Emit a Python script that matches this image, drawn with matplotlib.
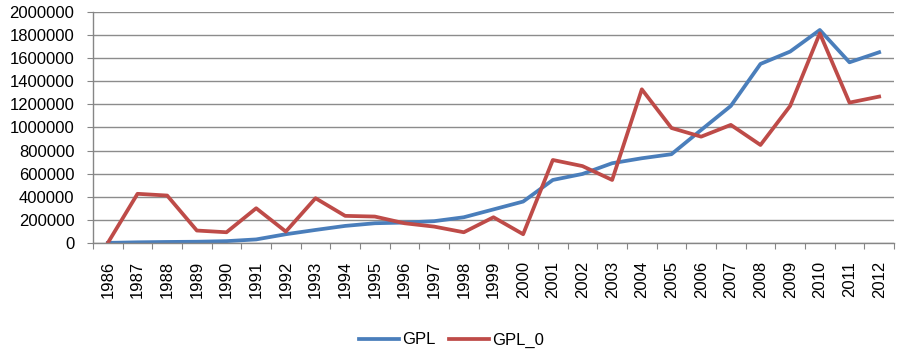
import numpy as np
import matplotlib
matplotlib.use("Agg")
import matplotlib.pyplot as plt

years = [str(y) for y in range(1986, 2013)]

gpl = [0, 5000, 8000, 10000, 15000, 30000, 75000, 112000, 147000, 170000,
       176000, 188000, 222000, 290000, 358000, 545000, 597000, 690000,
       733000, 768000, 978000, 1186000, 1550000, 1657000, 1844000,
       1564000, 1651000]
gpl_0 = [0, 425000, 410000, 107000, 92000, 300000, 98000, 387000, 234000,
         228000, 170000, 141000, 92000, 222000, 75000, 718000, 665000,
         545000, 1330000, 995000, 920000, 1022000, 848000, 1186000,
         1815000, 1215000, 1267000]

plt.rcParams['font.family'] = ['Liberation Sans', 'DejaVu Sans']

fig = plt.figure(figsize=(9.03, 3.52), dpi=100)
ax = fig.add_axes([0.103, 0.31, 0.887, 0.656])

x = np.arange(len(years))
ax.plot(x, gpl, color="#4A7EBB", linewidth=2.7, label="GPL")
ax.plot(x, gpl_0, color="#BE4B48", linewidth=2.7, label="GPL_0")

ax.set_xlim(-0.5, len(years) - 0.5)
ax.set_ylim(0, 2000000)
ax.set_yticks(np.arange(0, 2000001, 200000))
ax.set_yticklabels([str(v) for v in range(0, 2000001, 200000)], fontsize=12)

# category boundaries as major ticks, labels at centers
ax.set_xticks(np.arange(-0.5, len(years), 1.0))
ax.set_xticklabels([])
ax.set_xticks(x, minor=True)
ax.set_xticklabels(years, minor=True, rotation=90, fontsize=12)
ax.tick_params(axis='x', which='minor', length=0, pad=13)
ax.tick_params(axis='x', which='major', length=4, color='#868686')
ax.tick_params(axis='y', length=4.5, color='#868686', pad=9)

ax.grid(axis='y', color='#8c8c8c', linewidth=1.0)
ax.set_axisbelow(True)
for s in ['top', 'right']:
    ax.spines[s].set_visible(False)
for s in ['left', 'bottom']:
    ax.spines[s].set_color('#868686')
    ax.spines[s].set_linewidth(1.0)

fig.legend(loc='center', bbox_to_anchor=(0.5, 0.034), ncol=2, frameon=False,
           fontsize=12, handlelength=2.4, columnspacing=0.8, handletextpad=0.2)

fig.savefig("out.png", dpi=100)
